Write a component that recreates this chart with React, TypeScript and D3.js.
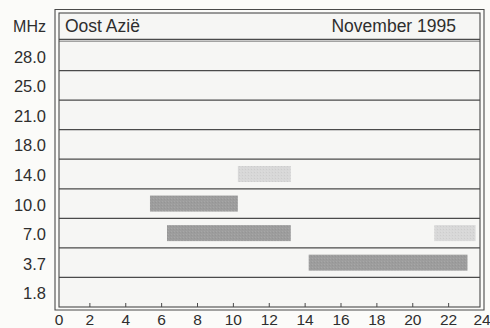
import React from "react";
import * as d3 from "d3";

const bands = ["28.0", "25.0", "21.0", "18.0", "14.0", "10.0", "7.0", "3.7", "1.8"];
const hourTicks = [0, 2, 4, 6, 8, 10, 12, 14, 16, 18, 20, 22, 24];
const barBand = ["14.0", "10.0", "7.0", "7.0", "3.7"];
const barStart = [10.25, 5.35, 6.3, 21.2, 14.2];
const barEnd = [13.2, 10.25, 13.2, 23.5, 23.05];
const barLevel = ["light", "dark", "dark", "light", "dark"];

const W = 490;
const H = 328;
const FONT = "'Liberation Sans', Arial, Helvetica, sans-serif";
const LINE = "#4a4a4a";
const TEXT = "#2e2e2e";

export default function App() {
  const x = d3.scaleLinear().domain([0, 24]).range([54, 484.5]);
  const y = d3.scaleBand().domain(bands).range([41, 307]);
  const bw = y.bandwidth();
  const barH = 16;
  const colors: Record<string, string> = { dark: "#9d9d9d", light: "#d8d8d8" };

  return (
    <svg
      width={W}
      height={H}
      style={{ position: "absolute", left: 0, top: 0, background: "#fbfbf9" }}
      fontFamily={FONT}
    >
      <defs>
        <pattern id="dither" width="3" height="3" patternUnits="userSpaceOnUse">
          <rect width="3" height="3" fill="none" />
          <rect x="0" y="0" width="1" height="1" fill="#ffffff" opacity="0.1" />
          <rect x="2" y="1" width="1" height="1" fill="#000000" opacity="0.05" />
        </pattern>
      </defs>
      <rect x={0} y={0} width={W} height={H} fill="#fbfbf9" />
      <rect x={59} y={13} width={421} height={294} fill="#f6f6f4" />

      <path d={`M55,310 L55,9.5 L484,9.5 L484,310 Z`} fill="none" stroke={LINE} strokeWidth={1.1} />
      <rect x={59} y={13} width={421} height={294} fill="none" stroke={LINE} strokeWidth={1.1} />
      <line x1={59} x2={480} y1={39.5} y2={39.5} stroke={LINE} strokeWidth={1.3} />
      <line x1={59} x2={480} y1={41.5} y2={41.5} stroke={LINE} strokeWidth={0.8} opacity={0.6} />

      {bands.slice(1).map((b) => (
        <line
          key={b}
          x1={59}
          x2={480}
          y1={y(b) as number}
          y2={y(b) as number}
          stroke={LINE}
          strokeWidth={1.2}
        />
      ))}

      {barBand.map((b, i) => {
        const yy = (y(b) as number) + (bw - barH) / 2;
        return (
          <g key={i}>
            <rect
              x={x(barStart[i])}
              y={yy}
              width={x(barEnd[i]) - x(barStart[i])}
              height={barH}
              fill={colors[barLevel[i]]}
            />
            <rect
              x={x(barStart[i])}
              y={yy}
              width={x(barEnd[i]) - x(barStart[i])}
              height={barH}
              fill="url(#dither)"
            />
          </g>
        );
      })}

      {hourTicks
        .filter((t) => t > 0 && t < 24)
        .map((t) => (
          <line key={t} x1={x(t)} x2={x(t)} y1={303} y2={307} stroke={LINE} strokeWidth={1} />
        ))}
      {hourTicks.map((t) => (
        <text
          key={t}
          x={t === 0 ? 59 : t === 24 ? 482 : x(t)}
          y={324.5}
          textAnchor="middle"
          fontSize={15.5}
          fill={TEXT}
        >
          {t}
        </text>
      ))}

      <text x={46} y={32} textAnchor="end" fontSize={16} fill={TEXT}>
        MHz
      </text>
      {bands.map((b) => (
        <text
          key={b}
          x={46}
          y={(y(b) as number) + bw / 2 + 7}
          textAnchor="end"
          fontSize={16.5}
          fill={TEXT}
        >
          {b}
        </text>
      ))}

      <text x={65} y={32} fontSize={17.5} fill={TEXT}>
        Oost Azië
      </text>
      <text x={456} y={32} textAnchor="end" fontSize={17.5} fill={TEXT}>
        November 1995
      </text>
    </svg>
  );
}
